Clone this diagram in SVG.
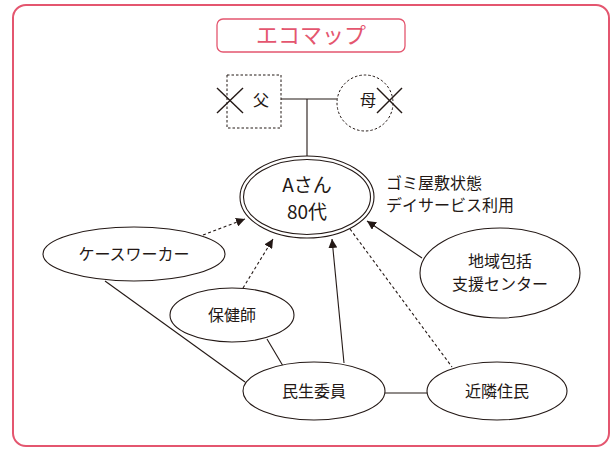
<svg xmlns="http://www.w3.org/2000/svg" width="612" height="449" viewBox="0 0 612 449">
<defs>
<marker id="arr" viewBox="0 0 10 10" refX="10" refY="5" markerWidth="9" markerHeight="9" markerUnits="userSpaceOnUse" orient="auto">
<path d="M0,0 L10,5 L0,10 z" fill="#231815"/>
</marker>
<style>
.frame{fill:#fff;stroke:#e4566f;stroke-width:2}
.title{fill:#fff;stroke:#e4566f;stroke-width:1.3}
.tt{font-family:"Noto Sans CJK JP","Noto Sans",sans-serif;font-size:22px;fill:#e4566f;text-anchor:middle}
.node{fill:#fff;stroke:#231815;stroke-width:1.1}
.t{font-family:"Noto Sans CJK JP","Noto Sans",sans-serif;font-size:16px;fill:#231815;text-anchor:middle}
.ta{font-family:"Noto Sans CJK JP","Noto Sans",sans-serif;font-size:16px;fill:#231815}
.big{font-family:"Noto Sans CJK JP","Noto Sans",sans-serif;font-size:19px;fill:#231815;text-anchor:middle}
.ln{stroke:#231815;stroke-width:1.1;fill:none}
.dash{stroke:#231815;stroke-width:1.1;fill:none;stroke-dasharray:3,2.5}
.dotted{fill:#fff;stroke:#231815;stroke-width:1;stroke-dasharray:2.5,2}
</style>
</defs>
<rect class="frame" x="13" y="5" width="596" height="441" rx="13"/>
<g id="title">
<rect class="title" x="217" y="19" width="188" height="33" rx="6"/>
<text class="tt" x="311" y="43">エコマップ</text>
</g>
<g id="connectors">
<line class="ln" x1="281" y1="99" x2="337" y2="99"/>
<line class="ln" x1="307" y1="99" x2="307" y2="157"/>
<line class="dash" x1="203" y1="235" x2="245" y2="219" marker-end="url(#arr)"/>
<line class="dash" x1="243" y1="288" x2="273" y2="239" marker-end="url(#arr)"/>
<line class="ln" x1="344" y1="363" x2="332" y2="239" marker-end="url(#arr)"/>
<line class="ln" x1="422" y1="258" x2="367" y2="221" marker-end="url(#arr)"/>
<line class="dash" x1="350" y1="229" x2="452" y2="367"/>
<line class="ln" x1="105" y1="281" x2="245" y2="382"/>
<line class="ln" x1="267" y1="339" x2="283" y2="366"/>
<line class="ln" x1="385" y1="393" x2="428" y2="393"/>
</g>
<g id="father">
<rect class="dotted" x="227" y="75" width="54" height="53"/>
<line class="ln" x1="217" y1="88" x2="243" y2="113" style="stroke-width:1.4"/>
<line class="ln" x1="243" y1="88" x2="217" y2="113" style="stroke-width:1.4"/>
<text class="t" x="261" y="106">父</text>
</g>
<g id="mother">
<circle class="dotted" cx="365" cy="103" r="28"/>
<line class="ln" x1="377" y1="88" x2="402" y2="113" style="stroke-width:1.4"/>
<line class="ln" x1="402" y1="88" x2="377" y2="113" style="stroke-width:1.4"/>
<text class="t" x="368" y="106">母</text>
</g>
<g id="asan">
<ellipse class="node" cx="307" cy="197" rx="67" ry="41"/>
<ellipse class="node" cx="307" cy="197" rx="63.5" ry="37.5"/>
<text class="big" x="307" y="192">Aさん</text>
<text class="big" x="307" y="219">80代</text>
<text class="ta" x="386" y="189">ゴミ屋敷状態</text>
<text class="ta" x="386" y="211">デイサービス利用</text>
</g>
<g id="caseworker">
<ellipse class="node" cx="134" cy="254" rx="91" ry="27"/>
<text class="t" x="134" y="260">ケースワーカー</text>
</g>
<g id="hokenshi">
<ellipse class="node" cx="232" cy="315" rx="62" ry="27"/>
<text class="t" x="232" y="321">保健師</text>
</g>
<g id="minsei">
<ellipse class="node" cx="314" cy="391" rx="71" ry="29"/>
<text class="t" x="314" y="397">民生委員</text>
</g>
<g id="kinrin">
<ellipse class="node" cx="497" cy="391" rx="70" ry="29"/>
<text class="t" x="497" y="397">近隣住民</text>
</g>
<g id="chiiki">
<ellipse class="node" cx="500" cy="273" rx="80" ry="45"/>
<text class="t" x="500" y="267">地域包括</text>
<text class="t" x="500" y="290">支援センター</text>
</g>
</svg>
